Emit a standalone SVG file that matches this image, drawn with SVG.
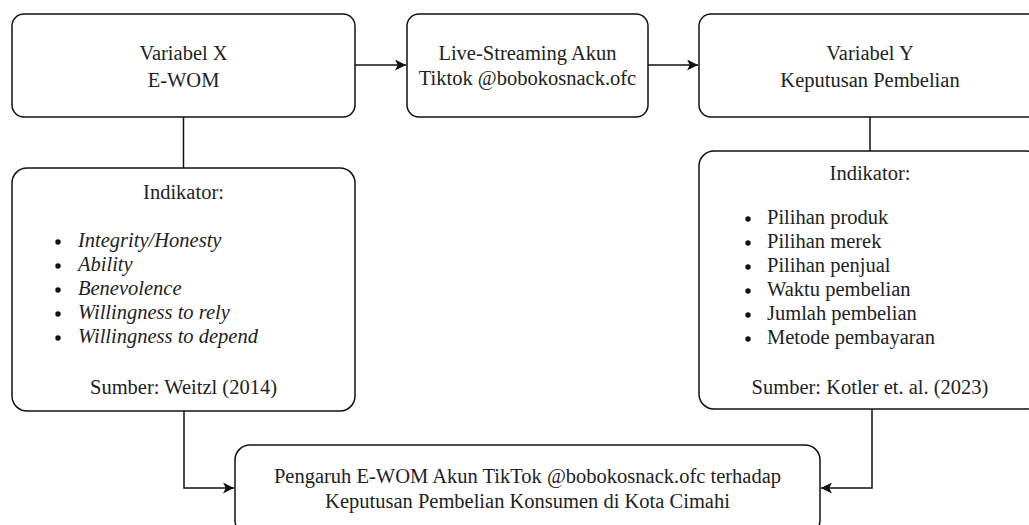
<svg xmlns="http://www.w3.org/2000/svg" width="1029" height="525" viewBox="0 0 1029 525">
<style>
.box{fill:#fff;stroke:#111;stroke-width:1.5}
.t{font-family:"Liberation Serif","Times New Roman",serif;font-size:20.5px;fill:#222}
.c{text-anchor:middle}
.i{font-style:italic}
.b{fill:#111}
.con{fill:none;stroke:#111;stroke-width:1.5}
</style>
<defs>
<marker id="ah" viewBox="0 0 10 10" refX="10" refY="5" markerWidth="11" markerHeight="11" markerUnits="userSpaceOnUse" orient="auto">
<path d="M0,0 L10,5 L0,10 L2.5,5 Z" fill="#111"/>
</marker>
</defs>
<g id="connectors">
<path class="con" d="M355,65 H406" marker-end="url(#ah)"/>
<path class="con" d="M648,65 H698" marker-end="url(#ah)"/>
<path class="con" d="M183.5,117 V168"/>
<path class="con" d="M870,117 V151"/>
<path class="con" d="M184,411 V488 H234" marker-end="url(#ah)"/>
<path class="con" d="M872,409 V488 H821" marker-end="url(#ah)"/>
</g>
<g id="varX">
<rect class="box" x="12" y="14" width="343" height="103" rx="12"/>
<text class="t c" x="183.5" y="59.5">Variabel X</text>
<text class="t c" x="183.5" y="86.5">E-WOM</text>
</g>
<g id="live">
<rect class="box" x="407" y="14" width="241" height="103" rx="12"/>
<text class="t c" x="527.5" y="59.5">Live-Streaming Akun</text>
<text class="t c" x="527.5" y="84.5">Tiktok @bobokosnack.ofc</text>
</g>
<g id="varY">
<rect class="box" x="699" y="14" width="342" height="103" rx="12"/>
<text class="t c" x="870" y="59.5">Variabel Y</text>
<text class="t c" x="870" y="86.5">Keputusan Pembelian</text>
</g>
<g id="indX">
<rect class="box" x="12" y="168" width="343" height="243" rx="15"/>
<text class="t c" x="183.5" y="199">Indikator:</text>
<circle class="b" cx="58" cy="242" r="2.7"/><text class="t i" x="78" y="247">Integrity/Honesty</text>
<circle class="b" cx="58" cy="266" r="2.7"/><text class="t i" x="78" y="271">Ability</text>
<circle class="b" cx="58" cy="290" r="2.7"/><text class="t i" x="78" y="295">Benevolence</text>
<circle class="b" cx="58" cy="314" r="2.7"/><text class="t i" x="78" y="319">Willingness to rely</text>
<circle class="b" cx="58" cy="338" r="2.7"/><text class="t i" x="78" y="343">Willingness to depend</text>
<text class="t c" x="183.5" y="394">Sumber: Weitzl (2014)</text>
</g>
<g id="indY">
<rect class="box" x="699" y="151" width="342" height="258" rx="15"/>
<text class="t c" x="870" y="180">Indikator:</text>
<circle class="b" cx="748" cy="219" r="2.7"/><text class="t" x="767" y="224">Pilihan produk</text>
<circle class="b" cx="748" cy="243" r="2.7"/><text class="t" x="767" y="248">Pilihan merek</text>
<circle class="b" cx="748" cy="267" r="2.7"/><text class="t" x="767" y="272">Pilihan penjual</text>
<circle class="b" cx="748" cy="291" r="2.7"/><text class="t" x="767" y="296">Waktu pembelian</text>
<circle class="b" cx="748" cy="315" r="2.7"/><text class="t" x="767" y="320">Jumlah pembelian</text>
<circle class="b" cx="748" cy="339" r="2.7"/><text class="t" x="767" y="344">Metode pembayaran</text>
<text class="t c" x="870" y="394">Sumber: Kotler et. al. (2023)</text>
</g>
<g id="hasil">
<rect class="box" x="235" y="445" width="585" height="90" rx="15"/>
<text class="t c" x="527.5" y="483">Pengaruh E-WOM Akun TikTok @bobokosnack.ofc terhadap</text>
<text class="t c" x="527.5" y="508">Keputusan Pembelian Konsumen di Kota Cimahi</text>
</g>
</svg>
